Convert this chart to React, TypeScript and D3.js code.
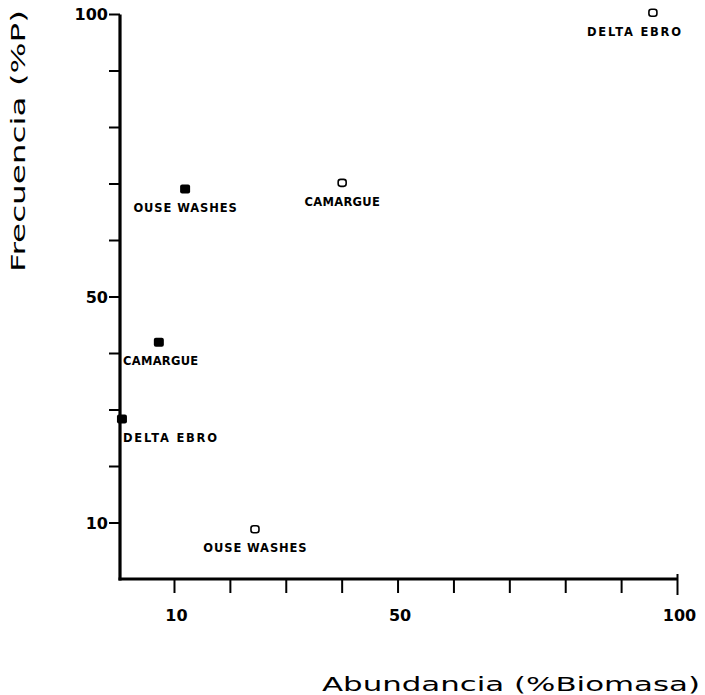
import React from "react";
import * as d3 from "d3";

const labels = ["OUSE WASHES", "CAMARGUE", "DELTA EBRO", "CAMARGUE", "DELTA EBRO", "OUSE WASHES"];
const abundancia = [11.9, 7.2, 0.6, 40.0, 95.6, 24.4];
const frecuencia = [69.1, 42.0, 28.4, 70.2, 100.3, 8.9];
const filled = [true, true, true, false, false, false];
const xTickValues = [10, 20, 30, 40, 50, 60, 70, 80, 90, 100];
const xTickLabels = [10, 50, 100];
const yTickValues = [10, 20, 30, 40, 50, 60, 70, 80, 90, 100];
const yTickLabels = [10, 50, 100];
const xTitle = "Abundancia (%Biomasa)";
const yTitle = "Frecuencia (%P)";

export default function App() {
  const W = 705, H = 695;
  const x = d3.scaleLinear().domain([0, 100]).range([118.6, 677.5]);
  const y = d3.scaleLinear().domain([0, 100]).range([579.5, 14.5]);
  const axisX = 120;
  const axisY = 579;
  const labelFont = "'DejaVu Sans', sans-serif";
  const approxW = (s: string) => s.length * 9.4;
  return (
    <svg width={W} height={H} style={{ position: "absolute", left: 0, top: 0, background: "#fff" }}>
      {/* axes */}
      <line x1={axisX} x2={axisX} y1={y(100)} y2={axisY + 1.5} stroke="#000" strokeWidth={3.2} />
      <line x1={axisX - 1.5} x2={x(100)} y1={axisY} y2={axisY} stroke="#000" strokeWidth={3.2} />
      {yTickValues.map((v) => (
        <line key={"yt" + v} x1={axisX - 11} x2={axisX} y1={y(v)} y2={y(v)} stroke="#000" strokeWidth={2} />
      ))}
      {xTickValues.map((v) => (
        <line key={"xt" + v} x1={x(v)} x2={x(v)} y1={axisY} y2={axisY + (v === 100 ? 16 : 14)} stroke="#000" strokeWidth={2} />
      ))}
      <line x1={x(100)} x2={x(100)} y1={axisY - 5} y2={axisY} stroke="#000" strokeWidth={2} />
      {yTickLabels.map((v) => (
        <text key={"yl" + v} x={axisX - 12} y={y(v)} dy="0.36em" textAnchor="end"
          fontFamily="'DejaVu Sans', sans-serif" fontWeight={700} fontSize={16}>{v}</text>
      ))}
      {xTickLabels.map((v) => (
        <text key={"xl" + v} x={x(v) + 2} y={621} textAnchor="middle"
          fontFamily="'DejaVu Sans', sans-serif" fontWeight={700} fontSize={16}>{v}</text>
      ))}
      {/* titles */}
      <text x={322} y={691} fontFamily={labelFont} fontSize={19} textLength={378} lengthAdjust="spacingAndGlyphs">{xTitle}</text>
      <text transform={`translate(25,272) rotate(-90)`} fontFamily={labelFont} fontSize={19} textLength={262} lengthAdjust="spacingAndGlyphs">{yTitle}</text>
      {/* points */}
      {labels.map((lab, i) => {
        const px = x(abundancia[i]);
        const py = y(frecuencia[i]);
        const w = approxW(lab);
        let lx = px - w / 2;
        lx = Math.max(lx, axisX + 3);
        lx = Math.min(lx, 681 - w);
        return (
          <g key={"p" + i}>
            {filled[i] ? (
              <rect x={px - 5} y={py - 4.5} width={10} height={9} rx={2} fill="#000" />
            ) : (
              <rect x={px - 4} y={py - 3.5} width={8} height={7} rx={2.5} fill="#fff" stroke="#000" strokeWidth={1.6} />
            )}
            <text x={lx} y={py + 23} fontFamily={labelFont} fontWeight={700} fontSize={11.5} textLength={w} lengthAdjust="spacing" fill="#000">{lab}</text>
          </g>
        );
      })}
    </svg>
  );
}
